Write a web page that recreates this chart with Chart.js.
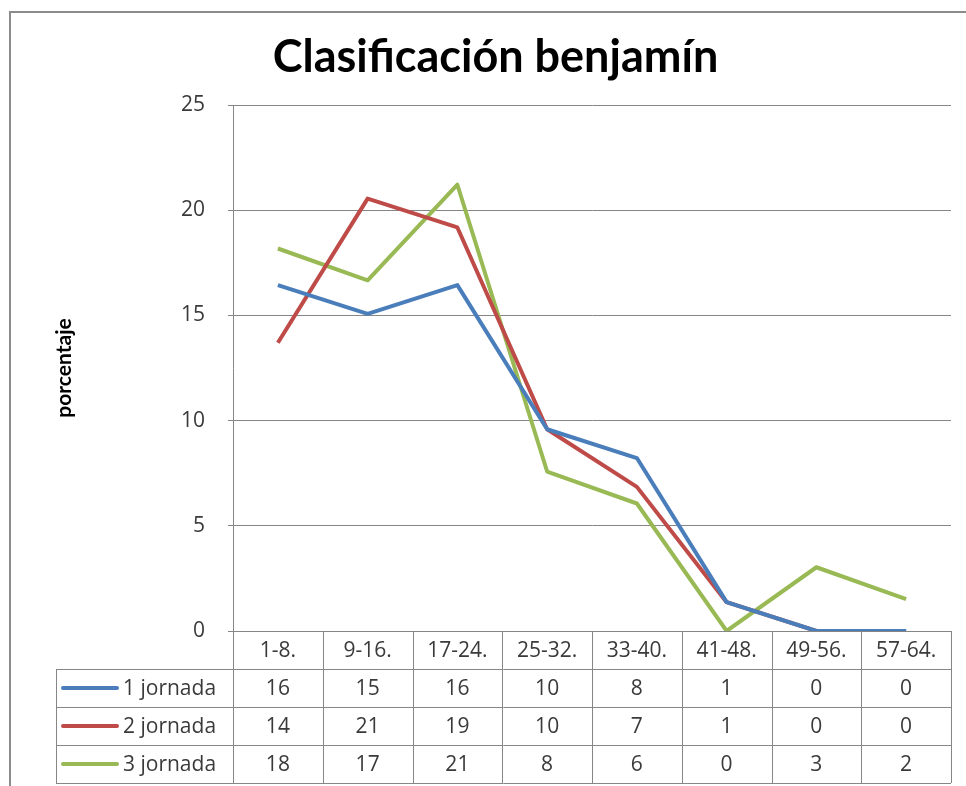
<!DOCTYPE html>
<html>
<head>
<meta charset="utf-8">
<script src="https://cdn.jsdelivr.net/npm/chart.js@4/dist/chart.umd.min.js"></script>
<style>
  html, body { margin: 0; padding: 0; background: #fff; }
  #wrap { position: relative; width: 966px; height: 786px; }
</style>
</head>
<body>
<div id="wrap"><canvas id="chart" width="966" height="786"></canvas></div>
<script>
const categorias = ['1-8.', '9-16.', '17-24.', '25-32.', '33-40.', '41-48.', '49-56.', '57-64.']
const series = ['1 jornada', '2 jornada', '3 jornada']
const jornada1 = [16.44, 15.07, 16.44, 9.59, 8.22, 1.37, 0, 0]
const jornada2 = [13.70, 20.55, 19.18, 9.59, 6.85, 1.37, 0, 0]
const jornada3 = [18.18, 16.67, 21.21, 7.58, 6.06, 0, 3.03, 1.52]
const colores = ['#4a7ebb', '#be4b48', '#98b954']

const GRIS = '#868686'
const TXT = '#3a3a3a'
const FUENTE = "'Open Sans', 'DejaVu Sans', sans-serif"

// marco exterior del gráfico (sólo borde izquierdo y superior visibles)
const marco = {
  id: 'marco',
  beforeDraw(chart) {
    const { ctx, width, height } = chart
    ctx.save()
    ctx.fillStyle = '#fff'
    ctx.fillRect(0, 0, width, height)
    ctx.strokeStyle = '#8c8c8c'
    ctx.lineWidth = 2
    ctx.beginPath()
    ctx.moveTo(10, height)
    ctx.lineTo(10, 12)
    ctx.lineTo(width, 12)
    ctx.stroke()
    ctx.restore()
  }
}

// tabla de datos bajo el eje x
const tabla = {
  id: 'tabla',
  afterDraw(chart) {
    const { ctx, chartArea } = chart
    const x = chart.scales.x
    const n = categorias.length
    const colW = (chartArea.right - chartArea.left) / n
    const top = chartArea.bottom
    const rowH = 38
    const legL = 56
    const filas = [jornada1, jornada2, jornada3]

    ctx.save()
    ctx.strokeStyle = GRIS
    ctx.lineWidth = 1
    ctx.beginPath()
    // líneas horizontales
    for (let r = 0; r <= 4; r++) {
      const y = Math.round(top + r * rowH) + 0.5
      ctx.moveTo(r === 0 ? chartArea.left : legL, y)
      ctx.lineTo(chartArea.right, y)
    }
    // líneas verticales
    for (let c = 0; c <= n; c++) {
      const xx = Math.round(chartArea.left + c * colW) + 0.5
      ctx.moveTo(xx, top)
      ctx.lineTo(xx, top + 4 * rowH)
    }
    ctx.moveTo(legL + 0.5, top + rowH)
    ctx.lineTo(legL + 0.5, top + 4 * rowH)
    ctx.stroke()

    ctx.font = `21px ${FUENTE}`
    ctx.fillStyle = TXT
    ctx.textAlign = 'center'
    ctx.textBaseline = 'middle'
    categorias.forEach((cat, i) => {
      ctx.fillText(cat, x.getPixelForValue(i), top + rowH / 2 + 1)
    })
    filas.forEach((fila, r) => {
      const yc = top + (r + 1) * rowH + rowH / 2 + 1
      fila.forEach((v, i) => {
        ctx.fillText(v.toFixed(0), x.getPixelForValue(i), yc)
      })
    })

    // leyenda en la tabla
    ctx.textAlign = 'left'
    series.forEach((nombre, r) => {
      const yc = top + (r + 1) * rowH + rowH / 2
      ctx.strokeStyle = colores[r]
      ctx.lineWidth = 4
      ctx.lineCap = 'round'
      ctx.beginPath()
      ctx.moveTo(63, yc)
      ctx.lineTo(117, yc)
      ctx.stroke()
      ctx.fillStyle = TXT
      ctx.fillText(nombre, 123, yc + 1)
    })
    ctx.restore()
  }
}

new Chart(document.getElementById('chart'), {
  type: 'line',
  data: {
    labels: categorias,
    datasets: [
      { label: series[0], data: jornada1, borderColor: colores[0] },
      { label: series[1], data: jornada2, borderColor: colores[1] },
      { label: series[2], data: jornada3, borderColor: colores[2] },
    ].map(d => ({ ...d, borderWidth: 4, pointRadius: 0, tension: 0, borderJoinStyle: 'round', fill: false }))
  },
  options: {
    responsive: false, animation: false, devicePixelRatio: 1,
    layout: { padding: { left: 40, right: 15, top: 0, bottom: 0 } },
    plugins: {
      legend: { display: false },
      tooltip: { enabled: false },
      title: {
        display: true,
        text: 'Clasificación benjamín',
        color: '#000',
        font: { family: "Lato, 'Open Sans', sans-serif", size: 45, weight: 'bold', lineHeight: 1.2 },
        padding: { top: 30, bottom: 21 }
      }
    },
    scales: {
      x: {
        offset: true,
        ticks: { display: false },
        grid: { display: false },
        border: { display: false },
        afterFit: s => { s.height = 155 }
      },
      y: {
        min: 0, max: 25,
        ticks: { stepSize: 5, color: TXT, padding: 23, font: { family: FUENTE, size: 21 } },
        grid: { color: GRIS, tickLength: 5 },
        border: { color: GRIS },
        title: {
          display: true, text: 'porcentaje', color: '#000',
          font: { family: "Lato, 'Open Sans', sans-serif", size: 21, weight: 'bold', lineHeight: 1.2 },
          padding: { top: 12, bottom: 0 }
        },
        afterFit: s => { s.width = 193 }
      }
    }
  },
  plugins: [marco, tabla]
})
</script>
</body>
</html>
